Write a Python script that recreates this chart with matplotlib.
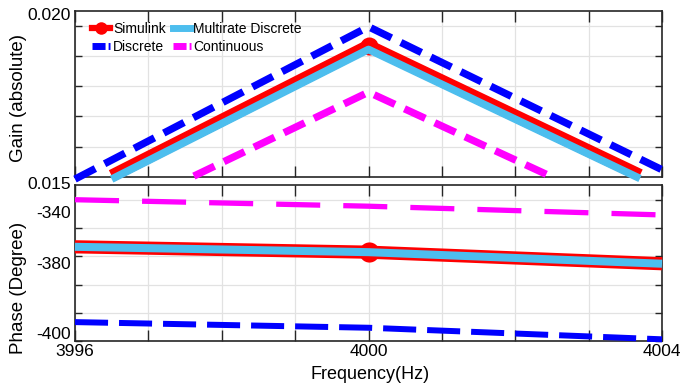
import matplotlib
matplotlib.use('Agg')
import matplotlib.pyplot as plt
from matplotlib.lines import Line2D
from matplotlib.ticker import FixedLocator, FixedFormatter, NullFormatter

plt.rcParams['font.family'] = ['Liberation Sans', 'DejaVu Sans']
plt.rcParams['lines.scale_dashes'] = False

# ---------------- data ----------------
freq_ticks = [3996, 3997, 3998, 3999, 4000, 4001, 4002, 4003, 4004]
freq_tick_labels = ['3996', '', '', '', '4000', '', '', '', '4004']
freq_lim = (3996, 4004)

# Gain (top panel)
f_gain_discrete = [3996, 4000, 4004]
gain_discrete = [0.01493, 0.01996, 0.01524]
f_gain_cont = [3997.62, 4000, 4002.44]
gain_cont = [0.01503, 0.01780, 0.01507]
f_gain_sim = [3996.5, 4000, 4003.7]
gain_sim = [0.01504, 0.01933, 0.01506]
gain_multi = [0.01493, 0.01921, 0.01495]

gain_grid = [0.015, 0.016, 0.017, 0.018, 0.019, 0.020]
gain_label_pos = [0.015, 0.02038]
gain_labels = ['0.015', '0.020']
gain_lim = (0.015, 0.020489)

# Phase (bottom panel)
f_phase = [3996, 4000, 4004]
phase_sim = [-366.6, -368.5, -372.6]
phase_multi = [-366.6, -368.5, -372.6]
phase_discrete = [-393.3, -395.3, -399.4]
phase_cont = [-349.9, -352.2, -355.3]

phase_grid = [-400, -390, -380, -370, -360, -350]
phase_label_pos = [-397.2, -372.3, -354.3]
phase_labels = ['-400', '-380', '-340']
phase_lim = (-400, -344.68)

series_names = ['Simulink', 'Multirate Discrete', 'Discrete', 'Continuous']

# ---------------- style ----------------
RED = '#FF0000'
LBLUE = '#4DBEEE'
BLUE = '#0000FF'
MAG = '#FF00FF'
AXC = '#262626'
GRIDC = '#e2e2e2'

fig = plt.figure(figsize=(6.8, 3.87), dpi=100)
ax1 = fig.add_axes([75/680, (387-177)/387, 587/680, 166.3/387])
ax2 = fig.add_axes([75/680, (387-341)/387, 587/680, 156/387])

def style_axes(ax, ylim, grid, label_pos, labels, show_x_labels):
    ax.set_xlim(*freq_lim)
    ax.set_ylim(*ylim)
    ax.xaxis.set_major_locator(FixedLocator(freq_ticks))
    if show_x_labels:
        ax.xaxis.set_major_formatter(FixedFormatter(freq_tick_labels))
    else:
        ax.xaxis.set_major_formatter(NullFormatter())
    ax.yaxis.set_major_locator(FixedLocator(label_pos))
    ax.yaxis.set_major_formatter(FixedFormatter(labels))
    ax.yaxis.set_minor_locator(FixedLocator(grid))
    ax.yaxis.set_minor_formatter(NullFormatter())
    ax.set_axisbelow(True)
    ax.grid(True, which='major', axis='x', color=GRIDC, lw=0.9)
    ax.grid(True, which='minor', axis='y', color=GRIDC, lw=0.9)
    ax.tick_params(axis='x', which='major', direction='in', top=True, bottom=True,
                   length=8, width=1.0, color=AXC, labelsize=12.5, pad=2.5,
                   labelcolor='black')
    ax.tick_params(axis='y', which='major', direction='in', left=True, right=False,
                   length=0, labelsize=12.5, pad=3, labelcolor='black')
    ax.tick_params(axis='y', which='minor', direction='in', left=True, right=True,
                   length=5, width=1.0, color=AXC)
    for s in ax.spines.values():
        s.set_color(AXC)
        s.set_linewidth(1.2)

style_axes(ax1, gain_lim, gain_grid, gain_label_pos, gain_labels, False)
style_axes(ax2, phase_lim, phase_grid, phase_label_pos, phase_labels, True)

# top panel lines
ax1.plot(f_gain_discrete, gain_discrete, color=BLUE, lw=5.3, dashes=(16.5, 7.5),
         clip_on=False, zorder=3)
ax1.plot(f_gain_cont, gain_cont, color=MAG, lw=5.3, dashes=(16.5, 7.5),
         clip_on=False, zorder=3)
ax1.plot(f_gain_sim, gain_sim, color=RED, lw=9, marker='o', ms=13, mew=0,
         markevery=[1], solid_capstyle='butt', clip_on=False, zorder=4)
ax1.plot(f_gain_sim, gain_multi, color=LBLUE, lw=5.5, solid_capstyle='butt',
         clip_on=False, zorder=5)

# bottom panel lines
ax2.plot(f_phase, phase_discrete, color=BLUE, lw=4.3, dashes=(23.8, 7.9),
         clip_on=False, zorder=3)
ax2.plot(f_phase, phase_cont, color=MAG, lw=3.8, dashes=(31.7, 16.6),
         clip_on=False, zorder=3)
ax2.plot(f_phase, phase_sim, color=RED, lw=9.5, marker='o', ms=14.5, mew=0,
         markevery=[1], solid_capstyle='butt', clip_on=False, zorder=4)
ax2.plot(f_phase, phase_multi, color=LBLUE, lw=5.8, solid_capstyle='butt',
         clip_on=False, zorder=5)

# labels
ax1.set_ylabel('Gain (absolute)', fontsize=13.5, va='center')
ax1.yaxis.set_label_coords(-0.0963, 0.475)
ax2.set_ylabel('Phase (Degree)', fontsize=13.5, va='center')
ax2.yaxis.set_label_coords(-0.0971, 0.34)
ax2.set_xlabel('Frequency(Hz)', fontsize=13, va='baseline')
ax2.xaxis.set_label_coords(0.503, -0.2436)

# shift the 0.015 label to sit below the axis edge like the reference
ax1.get_yticklabels()[0].set_va('top')

# legend
handles = [
    Line2D([], [], color=RED, lw=4.5, marker='o', ms=9, mew=0),
    Line2D([], [], color=LBLUE, lw=5),
    Line2D([], [], color=BLUE, lw=5, dashes=(9.4, 2.2)),
    Line2D([], [], color=MAG, lw=5, dashes=(9.4, 2.2)),
]
order = [0, 2, 1, 3]
ax1.legend([handles[i] for i in order], [series_names[i] for i in order],
           ncol=2, loc='upper left', bbox_to_anchor=(0.029, 0.933),
           frameon=False, fontsize=10, borderpad=0, borderaxespad=0,
           handlelength=1.3, handletextpad=0.2, columnspacing=0.5,
           labelspacing=0.3)

fig.savefig('out.png', dpi=100)
